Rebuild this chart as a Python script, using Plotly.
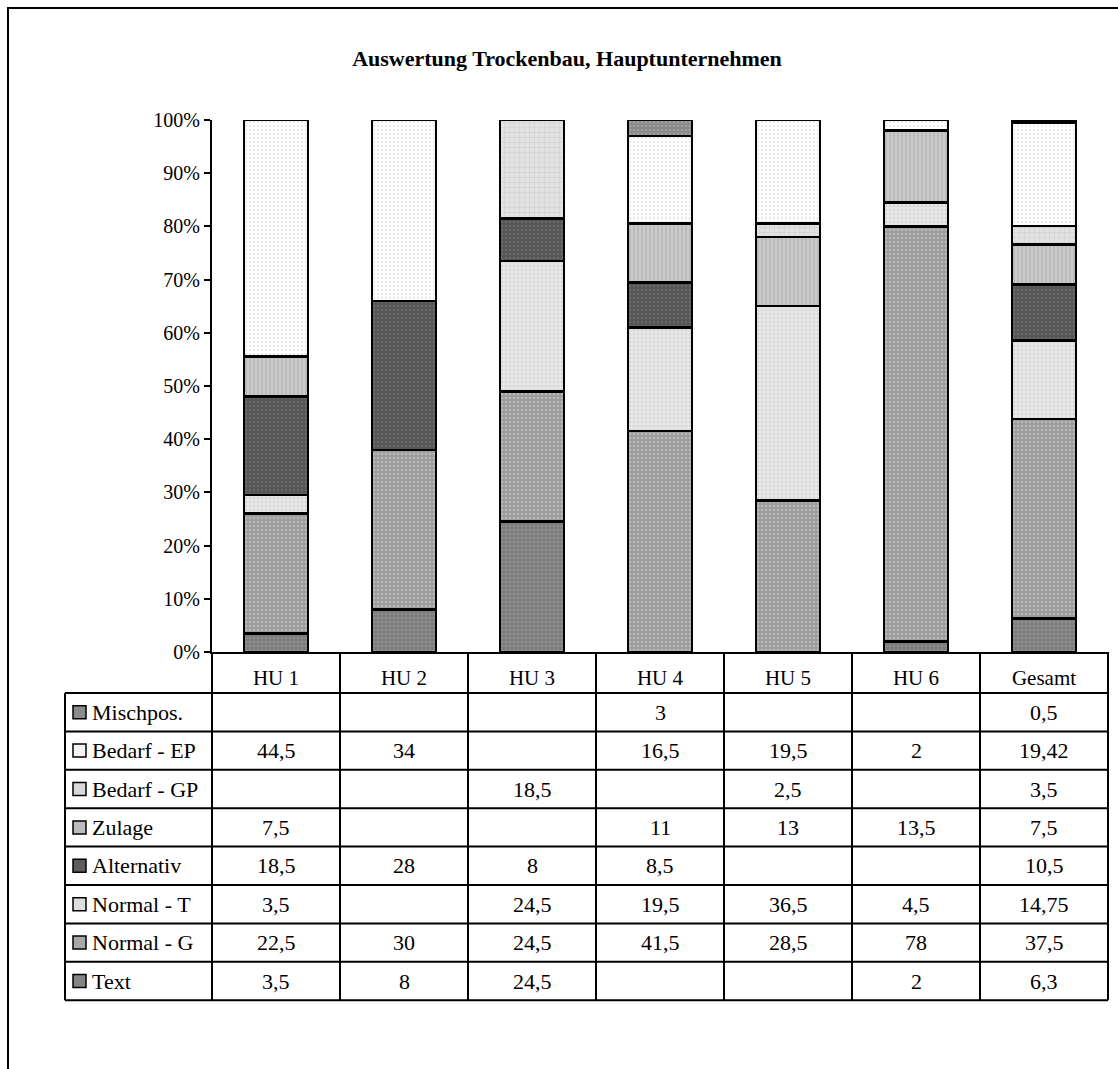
import plotly.graph_objects as go

# ---- data -------------------------------------------------------------
categories = ["HU 1", "HU 2", "HU 3", "HU 4", "HU 5", "HU 6", "Gesamt"]

# series listed bottom-to-top in the stack
series_names = ["Text", "Normal - G", "Normal - T", "Alternativ",
                "Zulage", "Bedarf - GP", "Bedarf - EP", "Mischpos."]

text_vals       = [3.5, 8, 24.5, None, None, 2, 6.3]
normal_g_vals   = [22.5, 30, 24.5, 41.5, 28.5, 78, 37.5]
normal_t_vals   = [3.5, None, 24.5, 19.5, 36.5, 4.5, 14.75]
alternativ_vals = [18.5, 28, 8, 8.5, None, None, 10.5]
zulage_vals     = [7.5, None, None, 11, 13, 13.5, 7.5]
bedarf_gp_vals  = [None, None, 18.5, None, 2.5, None, 3.5]
bedarf_ep_vals  = [44.5, 34, None, 16.5, 19.5, 2, 19.42]
mischpos_vals   = [None, None, None, 3, None, None, 0.5]

series_values = [text_vals, normal_g_vals, normal_t_vals, alternativ_vals,
                 zulage_vals, bedarf_gp_vals, bedarf_ep_vals, mischpos_vals]

y_tick_vals = list(range(0, 101, 10))
y_tick_text = [f"{v}%" for v in y_tick_vals]

# ---- styling ----------------------------------------------------------
FONT = "Liberation Serif, Times New Roman, serif"
W, H = 1118, 1069
L, R, T, B = 212, 10, 120, 417           # margins -> plot area 212..1108 x 120..652
PW, PH = W - L - R, H - T - B

styles = {
    "Text":        dict(bg="#7c7c7c", fg="#a4a4a4", shape=".", size=4, sol=0.35, key="#858585"),
    "Normal - G":  dict(bg="#9c9c9c", fg="#d6d6d6", shape=".", size=4, sol=0.35, key="#a8a8a8"),
    "Normal - T":  dict(bg="#e6e6e6", fg="#c6c6c6", shape=".", size=4, sol=0.3,  key="#dedede"),
    "Alternativ":  dict(bg="#555555", fg="#7e7e7e", shape=".", size=4, sol=0.3,  key="#5c5c5c"),
    "Zulage":      dict(bg="#cacaca", fg="#a2a2a2", shape="|", size=4, sol=0.4,  key="#bcbcbc"),
    "Bedarf - GP": dict(bg="#e2e2e2", fg="#c6c6c6", shape="+", size=5, sol=0.3,  key="#d8d8d8"),
    "Bedarf - EP": dict(bg="#ffffff", fg="#d2d2d2", shape=".", size=4, sol=0.3,  key="#f4f4f4"),
    "Mischpos.":   dict(bg="#8a8a8a", fg="#b0b0b0", shape=".", size=4, sol=0.3,  key="#8c8c8c"),
}


def px_x(px):
    return (px - L) / PW


def px_y(py):
    return (T + PH - py) / PH


def fmt(v):
    return "" if v is None else f"{v:g}".replace(".", ",")


fig = go.Figure()

for name, vals in zip(series_names, series_values):
    s = styles[name]
    fig.add_trace(go.Bar(
        x=categories, y=vals, name=name,
        marker=dict(
            color=s["bg"],
            line=dict(color="black", width=2.5),
            pattern=dict(shape=s["shape"], bgcolor=s["bg"], fgcolor=s["fg"],
                         size=s["size"], solidity=s["sol"]),
        ),
        hovertemplate="%{x}<br>" + name + ": %{y}<extra></extra>",
    ))

shapes = []
annotations = []

# outer chart frame (runs past the right and bottom page edges)
shapes.append(dict(type="rect", xref="paper", yref="paper",
                   x0=px_x(8), x1=px_x(1140), y0=px_y(8), y1=px_y(1090),
                   line=dict(color="black", width=2), fillcolor="rgba(0,0,0,0)"))

# data table below the bars
n = len(categories)
header_bottom = 693
row_h = 38.4
table_bottom = header_bottom + row_h * len(series_names)
legend_left = 65
line_style = dict(color="black", width=2)
TABLE_FONT = dict(family=FONT, size=22, color="black")

# vertical column borders (category boundaries)
for k in range(n + 1):
    shapes.append(dict(type="line", xref="paper", yref="paper",
                       x0=k / n, x1=k / n, y0=px_y(T + PH), y1=px_y(table_bottom),
                       line=line_style))
# left border of the legend column
shapes.append(dict(type="line", xref="paper", yref="paper",
                   x0=px_x(legend_left), x1=px_x(legend_left),
                   y0=px_y(header_bottom), y1=px_y(table_bottom), line=line_style))
# horizontal row borders
for j in range(len(series_names) + 1):
    yy = px_y(header_bottom + j * row_h)
    shapes.append(dict(type="line", xref="paper", yref="paper",
                       x0=px_x(legend_left), x1=1, y0=yy, y1=yy, line=line_style))

# rows: top row is the top of the stack
row_order = list(zip(series_names, series_values))[::-1]
for j, (name, vals) in enumerate(row_order):
    yc = header_bottom + (j + 0.5) * row_h
    # legend key square
    shapes.append(dict(type="rect", xref="paper", yref="paper",
                       x0=px_x(73), x1=px_x(86), y0=px_y(yc - 6.5), y1=px_y(yc + 6.5),
                       fillcolor=styles[name]["key"], line=dict(color="black", width=1.5)))
    annotations.append(dict(xref="paper", yref="paper", x=px_x(90), y=px_y(yc),
                            text=name, showarrow=False, xanchor="left", yanchor="middle",
                            font=TABLE_FONT))
    for i, v in enumerate(vals):
        if v is None:
            continue
        annotations.append(dict(xref="paper", yref="paper", x=(i + 0.5) / n, y=px_y(yc),
                                text=fmt(v), showarrow=False, xanchor="center",
                                yanchor="middle", font=TABLE_FONT))

fig.update_layout(
    width=W, height=H,
    margin=dict(l=L, r=R, t=T, b=B),
    paper_bgcolor="white", plot_bgcolor="white",
    barmode="stack", barnorm="percent", bargap=0.5,
    showlegend=False,
    title=dict(text="<b>Auswertung Trockenbau, Hauptunternehmen</b>",
               x=567 / W, xanchor="center", xref="container",
               y=1 - 58 / H, yanchor="middle", yref="container",
               font=dict(family=FONT, size=22, color="black")),
    font=dict(family=FONT, size=20, color="black"),
    xaxis=dict(
        type="category", range=[-0.5, n - 0.5],
        showline=True, linecolor="black", linewidth=2,
        ticks="", showgrid=False, zeroline=False,
        tickfont=dict(family=FONT, size=21, color="black"),
        ticklabelstandoff=6,
    ),
    yaxis=dict(
        range=[0, 100], tickmode="array", tickvals=y_tick_vals, ticktext=y_tick_text,
        showline=True, linecolor="black", linewidth=2,
        ticks="outside", ticklen=6, tickwidth=2, tickcolor="black",
        showgrid=False, zeroline=False,
        tickfont=dict(family=FONT, size=20, color="black"),
    ),
    shapes=shapes,
    annotations=annotations,
)

fig.write_html("out.html")
